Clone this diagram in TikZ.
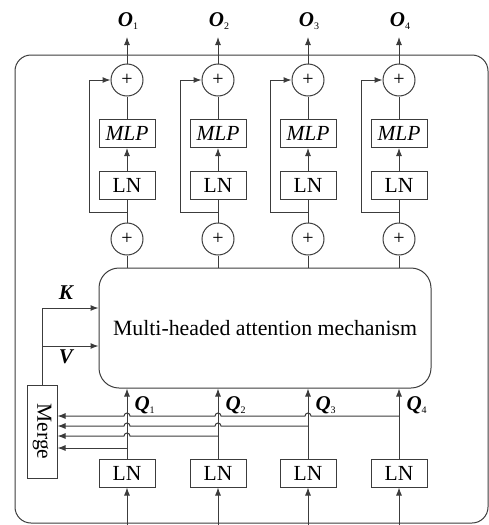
\documentclass[tikz,border=0pt]{standalone}
\usepackage{fontspec}
\setmainfont{Liberation Serif}
\usetikzlibrary{arrows.meta,calc}
\definecolor{lineg}{RGB}{60,60,60}
\newcommand\vlab[2]{{\fontsize{21}{22}\selectfont\bfseries\itshape #1}\raisebox{-3.5pt}{\fontsize{10}{11}\selectfont #2}}
\tikzset{
  every path/.style={line width=1pt},
  conn/.style={draw=lineg, line width=1pt},
  arr/.style={conn, -{Latex[length=8pt,width=6pt]}},
  box/.style={draw=lineg, line width=1pt, minimum width=56pt, minimum height=28pt,
    inner sep=0pt, font=\fontsize{21.5}{23}\selectfont},
  sumc/.style={draw=lineg, line width=1pt, circle, minimum size=32pt, inner sep=0pt,
    font=\fontsize{20}{22}\selectfont},
  lab/.style={inner sep=0pt}
}
\begin{document}
\begin{tikzpicture}[x=1pt,y=1pt]
\useasboundingbox (0,0) rectangle (489,-525);
% outer frame
\draw[conn, rounded corners=16pt] (15,-55) rectangle (488,-523);
% attention block
\node[draw=lineg, line width=1pt, rounded corners=20pt, minimum width=332pt, minimum height=120pt,
  font=\fontsize{21.8}{23}\selectfont] (att) at (265,-328) {Multi-headed attention mechanism};
% per-token columns
\foreach \i/\x in {1/127,2/218,3/308,4/399}{
  \node[sumc] (top\i) at (\x,-80) {+};
  \node[box] (mlp\i) at (\x,-133.5) {\textit{MLP}};
  \node[box] (ln\i) at (\x,-185.5) {LN};
  \node[sumc] (bot\i) at (\x,-239) {+};
  \node[box] (lnq\i) at (\x,-473) {LN};
  \node[lab] (o\i) at (\x+1,-21) {\vlab{O}{\i}};
  \node[lab, anchor=west] (q\i) at (\x+7,-405) {\vlab{Q}{\i}};
  \coordinate (otip\i) at (\x,-37);
  \coordinate (br\i) at (\x,-212);
  \coordinate (rb\i) at (\x-38,-212);
  \coordinate (rt\i) at (\x-38,-80);
  \coordinate (in\i) at (\x,-525);
  \draw[arr] (top\i) -- (otip\i);
  \draw[conn] (mlp\i) -- (top\i);
  \draw[arr] (ln\i) -- (mlp\i);
  \draw[conn] (bot\i) -- (ln\i);
  \draw[arr] (br\i) -- (rb\i) -- (rt\i) -- (top\i);
  \draw[conn] (bot\i) -- (bot\i |- att.north);
  \draw[arr] (lnq\i) -- (lnq\i |- att.south);
  \draw[arr] (in\i) -- (lnq\i);
}
% merge of the queries
\node[box, minimum width=30pt, minimum height=93pt] (merge) at (42,-431.5) {\rotatebox{-90}{Merge}};
\coordinate (kb) at (42,-308);
\coordinate (vb) at (42,-346);
\draw[conn] (merge) -- (kb);
\draw[arr] (kb) -- (kb -| att.west);
\draw[arr] (vb) -- (vb -| att.west);
\node[lab] (klab) at (66,-294) {\vlab{K}{}};
\node[lab] (vlab) at (66,-358) {\vlab{V}{}};
% lines from each query to the merge, hopping over the other columns
\coordinate (h4) at (399,-416);
\coordinate (h3) at (308,-426);
\coordinate (h2) at (218,-436);
\coordinate (h1) at (127,-448);
\draw[arr] (h4) -- (311,-416) arc[start angle=0,end angle=180,radius=3]
  -- (221,-416) arc[start angle=0,end angle=180,radius=3]
  -- (130,-416) arc[start angle=0,end angle=180,radius=3]
  -- (h4 -| merge.east);
\draw[arr] (h3) -- (221,-426) arc[start angle=0,end angle=180,radius=3]
  -- (130,-426) arc[start angle=0,end angle=180,radius=3]
  -- (h3 -| merge.east);
\draw[arr] (h2) -- (130,-436) arc[start angle=0,end angle=180,radius=3]
  -- (h2 -| merge.east);
\draw[arr] (h1) -- (h1 -| merge.east);
\end{tikzpicture}
\end{document}
